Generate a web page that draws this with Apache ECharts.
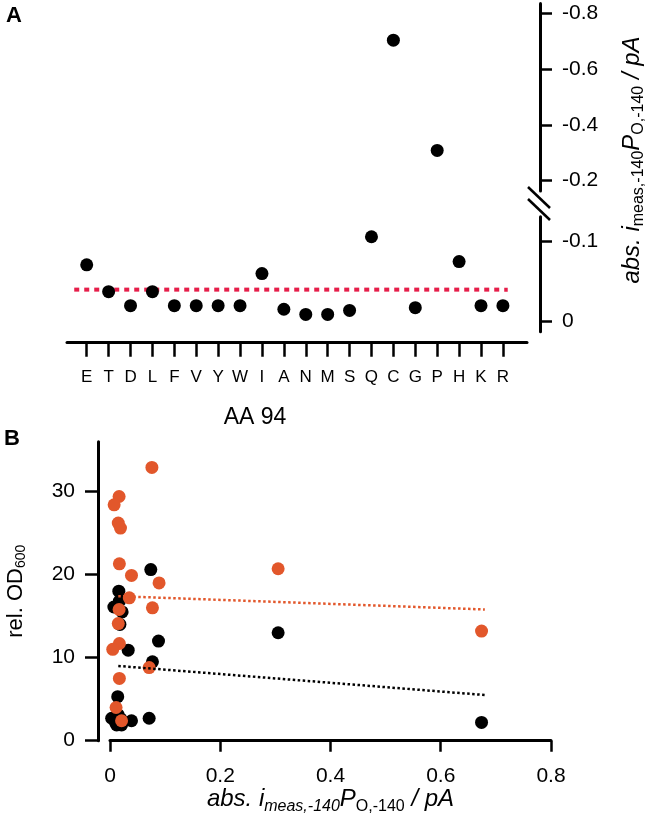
<!DOCTYPE html>
<html>
<head>
<meta charset="utf-8"/>
<title></title>
<script src="https://cdn.jsdelivr.net/npm/echarts@6.0.0/dist/echarts.min.js"></script>
<style>body{margin:0;background:#fff;}</style>
</head>
<body>
<div id="main" style="width:650px;height:829px;"></div>
<script type="text/javascript">
/* panel A: current per residue at AA 94 (as read on the right axis) */
var residues = ['E','T','D','L','F','V','Y','W','I','A','N','M','S','Q','C','G','P','H','K','R'];
var currentA = [-0.071,-0.0375,-0.02,-0.0375,-0.02,-0.02,-0.02,-0.02,-0.06,-0.0155,
                -0.009,-0.009,-0.014,-0.106,-0.704,-0.0175,-0.308,-0.075,-0.02,-0.02];
var thresholdA = -0.04;
var thresholdFrom = -0.57, thresholdTo = 19.22;
var breakAt = -0.15;
var ticksUpper = [-0.8,-0.6,-0.4,-0.2];
var ticksLower = [0,-0.1];

/* panel B: rel. OD600 vs current */
var blackX = [0.074,0.016,0.017,0.007,0.022,0.018,0.033,0.088,0.077,0.305,
              0.014,0.003,0.015,0.012,0.021,0.039,0.071,0.674,0.010,0.020];
var blackY = [20.6,18.0,16.8,16.1,15.5,14.0,10.9,12.0,9.5,13.0,
              5.3,2.7,3.1,1.9,1.9,2.4,2.7,2.2,2.2,2.6];
var orangeX = [0.076,0.0165,0.0075,0.015,0.019,0.017,0.039,0.089,0.305,0.035,
               0.077,0.0165,0.015,0.017,0.005,0.071,0.017,0.011,0.021,0.674];
var orangeY = [32.9,29.4,28.4,26.2,25.6,21.3,19.9,19.0,20.7,17.2,
               16.0,15.8,14.1,11.7,11.0,8.8,7.5,4.0,2.4,13.2];
var blackFit = [[0.015,9.0],[0.68,5.5]];
var orangeFit = [[0.015,17.4],[0.68,15.8]];
var ticksBx = [0,0.2,0.4,0.6,0.8];
var ticksBy = [0,10,20,30];

var FONT = 'Liberation Sans';
var orange = '#e2572b';
var red = '#e61e4a';

var lowPts = [], highPts = [];
for (var i = 0; i < currentA.length; i++) {
    if (currentA[i] < breakAt) highPts.push([i, currentA[i]]);
    else lowPts.push([i, currentA[i]]);
}
var idx = residues.map(function (r, i) { return i; });

var chart = echarts.init(document.getElementById('main'));

function axisLineStyle() { return {show: true, onZero: false, lineStyle: {color: '#000', width: 3}}; }

var option = {
    animation: false,
    backgroundColor: '#fff',
    grid: [
        {left: 67, right: 123, top: 3.5, height: 187.5, outerBoundsMode: 'none'},
        {left: 67, right: 123, top: 216.7, height: 115, outerBoundsMode: 'none'},
        {left: 110, right: 99, top: 441.7, height: 299, outerBoundsMode: 'none'}
    ],
    xAxis: [
        {gridIndex: 0, type: 'value', min: -0.9, max: 20.1, show: false},
        {
            gridIndex: 1, type: 'value', min: -0.9, max: 20.1, position: 'bottom', offset: 11,
            axisLine: axisLineStyle(),
            axisTick: {customValues: idx, length: 14, lineStyle: {color: '#000', width: 2.5}},
            axisLabel: {customValues: idx, formatter: function (v) { return residues[v]; },
                color: '#000', fontSize: 17, fontFamily: FONT, margin: 26},
            splitLine: {show: false}
        },
        {
            gridIndex: 2, type: 'value', min: 0, max: 0.8,
            axisLine: axisLineStyle(),
            axisTick: {customValues: ticksBx, length: 11, lineStyle: {color: '#000', width: 2.5}},
            axisLabel: {customValues: ticksBx, color: '#000', fontSize: 21, fontFamily: FONT, margin: 25},
            splitLine: {show: false},
            name: '{it|abs. i}{subi|meas,-140}{it|P}{sub|O,-140}{it| / pA}',
            nameLocation: 'middle', nameGap: 44,
            nameTextStyle: {
                color: '#000', fontFamily: FONT,
                rich: {
                    it: {fontSize: 24, fontStyle: 'italic', fontFamily: FONT, color: '#000'},
                    subi: {fontSize: 16, fontStyle: 'italic', fontFamily: FONT, color: '#000', padding: [14, 0, 0, 0]},
                    sub: {fontSize: 16, fontFamily: FONT, color: '#000', padding: [14, 0, 0, 0]}
                }
            }
        }
    ],
    yAxis: [
        {
            gridIndex: 0, type: 'value', inverse: true, min: -0.836, max: -0.162,
            position: 'right', offset: 13,
            axisLine: axisLineStyle(),
            axisTick: {customValues: ticksUpper, length: 12, lineStyle: {color: '#000', width: 2.5}},
            axisLabel: {customValues: ticksUpper, color: '#000', fontSize: 21, fontFamily: FONT, margin: 22},
            splitLine: {show: false}
        },
        {
            gridIndex: 1, type: 'value', inverse: true, min: -0.131, max: 0.0125,
            position: 'right', offset: 13,
            axisLine: axisLineStyle(),
            axisTick: {customValues: ticksLower, length: 12, lineStyle: {color: '#000', width: 2.5}},
            axisLabel: {customValues: ticksLower, color: '#000', fontSize: 21, fontFamily: FONT, margin: 22},
            splitLine: {show: false}
        },
        {
            gridIndex: 2, type: 'value', min: 0, max: 36, offset: 12,
            axisLine: axisLineStyle(),
            axisTick: {customValues: ticksBy, length: 13, lineStyle: {color: '#000', width: 2.5}},
            axisLabel: {customValues: ticksBy, color: '#000', fontSize: 21, fontFamily: FONT, margin: 23},
            splitLine: {show: false},
            name: '{n|rel. OD}{sub|600}',
            nameLocation: 'middle', nameGap: 70, nameRotate: 90,
            nameTextStyle: {
                color: '#000', fontFamily: FONT,
                rich: {
                    n: {fontSize: 22, fontFamily: FONT, color: '#000'},
                    sub: {fontSize: 14, fontFamily: FONT, color: '#000', padding: [10, 0, 0, 0]}
                }
            }
        }
    ],
    graphic: [
        {type: 'text', left: 6, top: 5, style: {text: 'A', font: 'bold 22px ' + FONT, fill: '#000'}},
        {type: 'text', left: 4, top: 428, style: {text: 'B', font: 'bold 22px ' + FONT, fill: '#000'}},
        {type: 'text', x: 255, y: 418, style: {text: 'AA 94', font: '23px ' + FONT, fill: '#000', align: 'center', verticalAlign: 'middle'}},
        {
            type: 'text', x: 632, y: 160, rotation: Math.PI / 2,
            style: {
                text: '{it|abs. i}{sub|meas,-140}{it|P}{sub|O,-140}{it| / pA}',
                align: 'center', verticalAlign: 'middle', fill: '#000',
                rich: {
                    it: {fontSize: 24, fontStyle: 'italic', fontFamily: FONT, fill: '#000'},
                    sub: {fontSize: 16, fontFamily: FONT, fill: '#000', padding: [14, 0, 0, 0]}
                }
            }
        },
        {type: 'line', shape: {x1: 528, y1: 187, x2: 550, y2: 208}, style: {stroke: '#000', lineWidth: 2.5}},
        {type: 'line', shape: {x1: 528, y1: 199, x2: 550, y2: 220}, style: {stroke: '#000', lineWidth: 2.5}}
    ],
    series: [
        {
            type: 'line', xAxisIndex: 1, yAxisIndex: 1, symbol: 'none', silent: true,
            data: [[thresholdFrom, thresholdA], [thresholdTo, thresholdA]],
            lineStyle: {color: red, width: 4, type: [5, 5]}, z: 1
        },
        {type: 'scatter', xAxisIndex: 1, yAxisIndex: 1, data: lowPts, symbolSize: 13, itemStyle: {color: '#000', opacity: 1}, z: 3},
        {type: 'scatter', xAxisIndex: 0, yAxisIndex: 0, data: highPts, symbolSize: 13, itemStyle: {color: '#000', opacity: 1}, z: 3},
        {
            type: 'scatter', xAxisIndex: 2, yAxisIndex: 2, symbolSize: 13, itemStyle: {color: '#000', opacity: 1},
            data: blackX.map(function (x, i) { return [x, blackY[i]]; }), z: 3
        },
        {
            type: 'scatter', xAxisIndex: 2, yAxisIndex: 2, symbolSize: 13, itemStyle: {color: orange, opacity: 1},
            data: orangeX.map(function (x, i) { return [x, orangeY[i]]; }), z: 4
        },
        {
            type: 'line', xAxisIndex: 2, yAxisIndex: 2, symbol: 'none', silent: true, data: blackFit,
            lineStyle: {color: '#000', width: 2.5, type: [2.5, 2.5]}, z: 5
        },
        {
            type: 'line', xAxisIndex: 2, yAxisIndex: 2, symbol: 'none', silent: true, data: orangeFit,
            lineStyle: {color: orange, width: 2.5, type: [2.5, 2.5]}, z: 5
        }
    ]
};

chart.setOption(option);
window.onresize = chart.resize;
</script>
</body>
</html>
